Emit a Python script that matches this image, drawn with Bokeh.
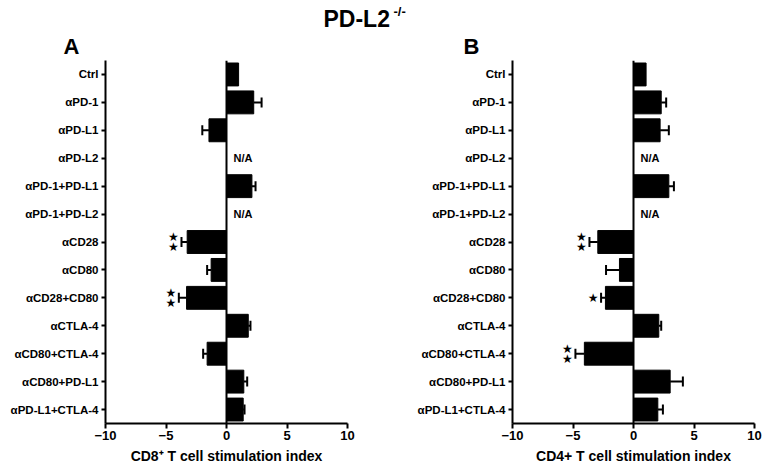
from bokeh.plotting import figure
from bokeh.layouts import column, row
from bokeh.models import (ColumnDataSource, FactorRange, Range1d, Span, Whisker, TeeHead,
                          FixedTicker, Label)
from bokeh.core.properties import value
from bokeh.embed import file_html
from bokeh.resources import INLINE

categories = ["Ctrl", "αPD-1", "αPD-L1", "αPD-L2", "αPD-1+PD-L1", "αPD-1+PD-L2",
              "αCD28", "αCD80", "αCD28+CD80", "αCTLA-4", "αCD80+CTLA-4",
              "αCD80+PD-L1", "αPD-L1+CTLA-4"]
cd8_mean = [1.0, 2.25, -1.45, None, 2.1, None, -3.25, -1.27, -3.3, 1.8, -1.6, 1.43, 1.38]
cd8_err = [0.0, 0.65, 0.55, None, 0.3, None, 0.47, 0.33, 0.64, 0.18, 0.33, 0.28, 0.11]
cd8_stars = [0, 0, 0, 0, 0, 0, 2, 0, 2, 0, 0, 0, 0]
cd4_mean = [1.04, 2.29, 2.2, None, 2.92, None, -2.95, -1.16, -2.32, 2.09, -4.06, 3.03, 2.01]
cd4_err = [0.0, 0.41, 0.72, None, 0.42, None, 0.69, 1.11, 0.36, 0.2, 0.74, 1.05, 0.42]
cd4_stars = [0, 0, 0, 0, 0, 0, 2, 0, 1, 0, 2, 0, 0]
x_ticks = [-10, -5, 0, 5, 10]

FONT = "Liberation Sans"


def panel(means, errs, stars, xlabel, width, left, right):
    p = figure(width=width, height=410, output_backend="svg", toolbar_location=None,
               x_range=Range1d(-10, 10), y_range=FactorRange(*reversed(categories)),
               min_border_left=left, min_border_right=right, min_border_top=2,
               min_border_bottom=45)
    p.outline_line_color = None
    p.xgrid.visible = False
    p.ygrid.visible = False
    p.background_fill_color = "white"

    cats = [c for c, m in zip(categories, means) if m is not None]
    vals = [m for m in means if m is not None]
    es = [e for e in errs if e is not None]
    ends = [v + (e if v >= 0 else -e) for v, e in zip(vals, es)]
    src = ColumnDataSource(dict(cat=cats, val=vals, end=ends))
    p.hbar(y="cat", left=0, right="val", height=0.82, source=src,
           fill_color="black", line_color="black", line_width=1)

    wc = [c for c, e in zip(cats, es) if e > 0]
    wv = [v for v, e in zip(vals, es) if e > 0]
    we = [x for x, e in zip(ends, es) if e > 0]
    wsrc = ColumnDataSource(dict(cat=wc, val=wv, end=we))
    p.add_layout(Whisker(source=wsrc, base="cat", lower="val", upper="end",
                         dimension="width", line_width=2, line_color="black",
                         lower_head=None,
                         upper_head=TeeHead(size=10, line_width=2, line_color="black")))

    p.add_layout(Span(location=0, dimension="height", line_color="black", line_width=2))

    # N/A
    na = [c for c, m in zip(categories, means) if m is None]
    nsrc = ColumnDataSource(dict(cat=na, x=[0] * len(na), t=["N/A"] * len(na)))
    p.text(x="x", y="cat", text="t", source=nsrc, x_offset=7, text_align="left",
           text_baseline="middle", text_font=value(FONT), text_font_style="bold",
           text_font_size="11px", text_color="black")

    # significance stars
    s1c, s1x, s2c, s2x = [], [], [], []
    for c, m, e, s in zip(categories, means, errs, stars):
        if m is None or s == 0:
            continue
        end = m + (e if m >= 0 else -e)
        if s == 1:
            s1c.append(c); s1x.append(end)
        else:
            s2c.append(c); s2x.append(end)
    for yo, cs, xs in [(0, s1c, s1x), (-5, s2c, s2x), (5, s2c, s2x)]:
        if not cs:
            continue
        ssrc = ColumnDataSource(dict(cat=cs, x=xs, t=["★"] * len(cs)))
        p.text(x="x", y="cat", text="t", source=ssrc, x_offset=-8, y_offset=yo,
               text_align="center", text_baseline="middle",
               text_font=value("DejaVu Sans"), text_font_size="12px", text_color="black")

    xa = p.xaxis[0]
    xa.ticker = FixedTicker(ticks=x_ticks)
    xa.axis_label = xlabel
    xa.axis_line_width = 2
    xa.major_tick_line_width = 2
    xa.major_tick_out = 5
    xa.major_tick_in = 0
    xa.minor_tick_line_color = None
    xa.major_label_text_font = FONT
    xa.major_label_text_font_style = "bold"
    xa.major_label_text_font_size = "13px"
    xa.major_label_text_color = "black"
    xa.major_label_standoff = 2
    xa.axis_label_text_font = FONT
    xa.axis_label_text_font_style = "bold"
    xa.axis_label_text_font_size = "14px"
    xa.axis_label_text_color = "black"
    xa.axis_label_standoff = 5

    ya = p.yaxis[0]
    ya.axis_line_width = 2
    ya.major_tick_line_width = 2
    ya.major_tick_out = 4
    ya.major_tick_in = 0
    ya.major_label_text_font = FONT
    ya.major_label_text_font_style = "bold"
    ya.major_label_text_font_size = "11.5px"
    ya.major_label_text_color = "black"
    ya.major_label_standoff = 3
    return p


pa = panel(cd8_mean, cd8_err, cd8_stars, "CD8⁺ T cell stimulation index", 383, 105, 36)
pb = panel(cd4_mean, cd4_err, cd4_stars, "CD4+ T cell stimulation index", 383, 129, 12)

t = figure(width=766, height=58, output_backend="svg", toolbar_location=None,
           x_range=Range1d(0, 766), y_range=Range1d(0, 58),
           min_border=0, min_border_left=0, min_border_right=0,
           min_border_top=0, min_border_bottom=0)
t.axis.visible = False
t.grid.visible = False
t.outline_line_color = None
common = dict(x_units="screen", y_units="screen", text_font=FONT, text_font_style="bold",
              text_color="black", text_baseline="alphabetic")
t.add_layout(Label(x=323, y=40, text="PD-L2", text_font_size="23px", **common))
t.add_layout(Label(x=393, y=47, text="-/-", text_font_size="13px", **common))
t.add_layout(Label(x=63, y=12, text="A", text_font_size="22px", **common))
t.add_layout(Label(x=463, y=12, text="B", text_font_size="22px", **common))

layout = column(t, row(pa, pb))
open("out.html", "w").write(file_html(layout, INLINE))
